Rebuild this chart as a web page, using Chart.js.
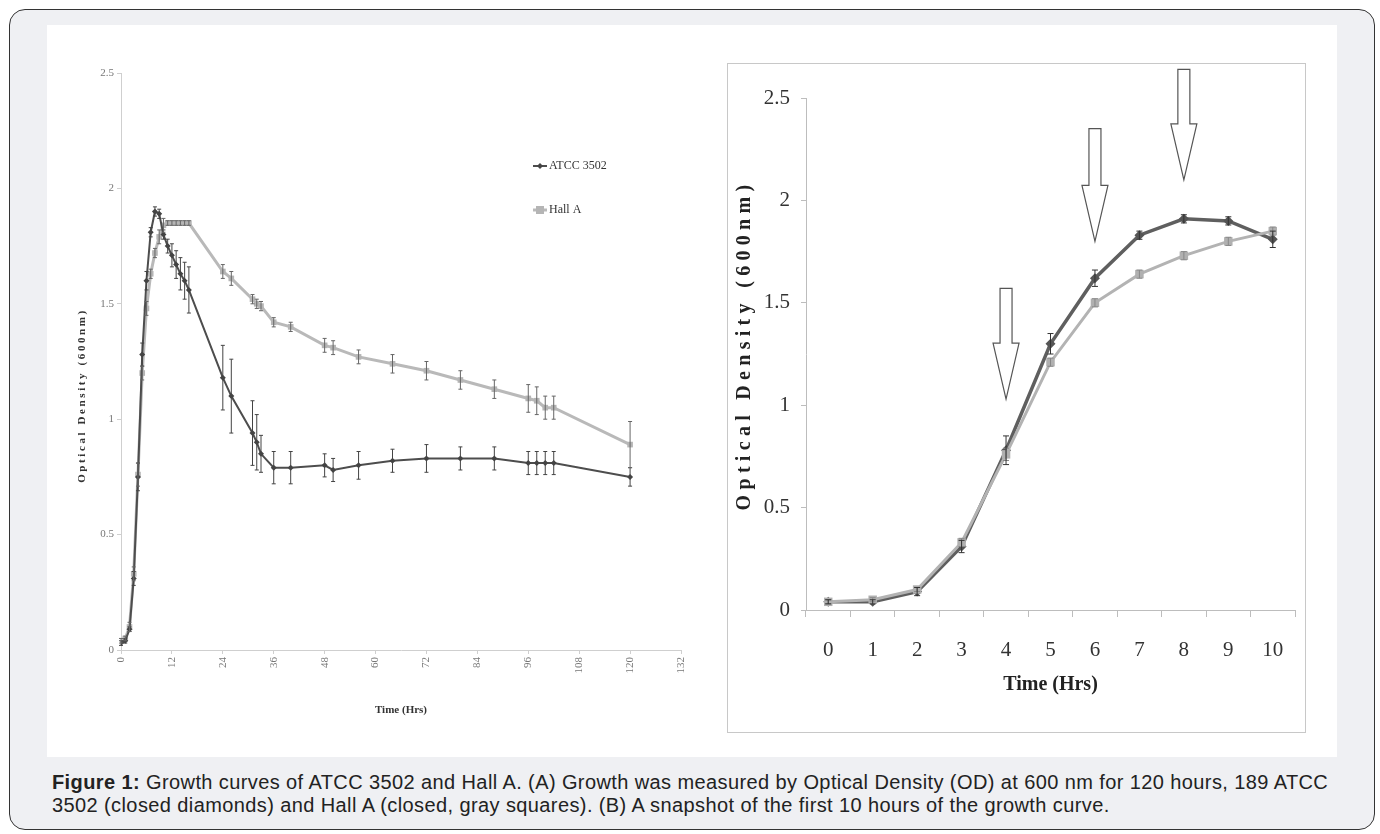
<!DOCTYPE html>
<html>
<head>
<meta charset="utf-8">
<script src="https://cdn.jsdelivr.net/npm/chart.js@4.4.1/dist/chart.umd.min.js"></script>
<style>
    body { margin:0; background:#ffffff; width:1380px; height:834px; position:relative; overflow:hidden; }
    #frame { position:absolute; left:9px; top:9px; width:1366px; height:821px; box-sizing:border-box;
             border:1.5px solid #333; border-radius:16px; background:#eff0f3; }
    #panel { position:absolute; left:47px; top:25px; width:1290px; height:732px; background:#fff; }
    #box_b { position:absolute; left:727px; top:63px; width:579px; height:670px; box-sizing:border-box;
             border:1px solid #c8c8c8; background:#fff; }
    #chart_a { position:absolute; left:47px; top:25px; }
    #chart_b { position:absolute; left:728px; top:64px; }
    #caption { position:absolute; left:52px; top:771px; font-family:"Liberation Sans", Arial, sans-serif;
               font-size:20px; letter-spacing:0.4px; line-height:23px; color:#222; white-space:nowrap; }
</style>
</head>
<body>
<div id="frame"></div>
<div id="panel"></div>
<div id="box_b"></div>
<canvas id="chart_a" width="660" height="720"></canvas>
<canvas id="chart_b" width="577" height="668"></canvas>
<div id="caption"><b>Figure 1:</b> Growth curves of ATCC 3502 and Hall A. (A) Growth was measured by Optical Density (OD) at 600 nm for 120 hours, 189 ATCC<br>3502 (closed diamonds) and Hall A (closed, gray squares). (B) A snapshot of the first 10 hours of the growth curve.</div>

<script>
// ---- (A) 0-120 hrs
var hoursA = [0,1,2,3,4,5,6,7,8,9,10,11,12,13,14,15,16,24,26,31,32,33,36,40,48,50,56,64,72,80,88,96,98,100,102,120];
var atccA  = [0.03,0.04,0.09,0.31,0.75,1.28,1.60,1.81,1.90,1.89,1.80,1.75,1.71,1.67,1.63,1.60,1.56,1.18,1.10,0.94,0.90,0.85,0.79,0.79,0.80,0.78,0.80,0.82,0.83,0.83,0.83,0.81,0.81,0.81,0.81,0.75];
var atccErrA = [0.01,0.01,0.01,0.03,0.06,0.05,0.04,0.02,0.02,0.02,0.02,0.03,0.05,0.06,0.07,0.08,0.10,0.14,0.16,0.14,0.12,0.08,0.07,0.07,0.05,0.05,0.06,0.05,0.06,0.05,0.05,0.05,0.05,0.05,0.05,0.04];
var hallA  = [0.04,0.05,0.10,0.33,0.76,1.20,1.48,1.63,1.72,1.79,1.84,1.85,1.85,1.85,1.85,1.85,1.85,1.64,1.61,1.52,1.50,1.49,1.42,1.40,1.32,1.31,1.27,1.24,1.21,1.17,1.13,1.09,1.08,1.05,1.05,0.89];
var hallErrA = [0.01,0.01,0.02,0.03,0.05,0.03,0.03,0.02,0.02,0.03,0.03,0.01,0.01,0.01,0.01,0.01,0.01,0.03,0.03,0.02,0.02,0.02,0.02,0.02,0.03,0.03,0.03,0.04,0.04,0.04,0.04,0.06,0.06,0.05,0.05,0.10];

// ---- (B) first 10 hrs
var hoursB = ["0","1","2","3","4","5","6","7","8","9","10"];
var atccB  = [0.04,0.04,0.09,0.31,0.78,1.30,1.62,1.83,1.91,1.90,1.81];
var atccErrB = [0.01,0.01,0.02,0.03,0.07,0.05,0.04,0.02,0.02,0.02,0.04];
var hallB  = [0.04,0.05,0.10,0.33,0.76,1.21,1.50,1.64,1.73,1.80,1.85];
var hallErrB = [0.01,0.01,0.01,0.02,0.03,0.02,0.02,0.02,0.02,0.02,0.02];

// arrows in (B): hour, top value, tip value
var arrowHour = [4, 6, 8];
var arrowTop  = [1.57, 2.35, 2.64];
var arrowTip  = [1.03, 1.80, 2.10];

var SERIF = "'Liberation Serif', 'Times New Roman', serif";
var Y_TITLE = 'Optical Density (600nm)';

var _toXY = function( xs, ys ){
    var out = [], n = xs.length, i;
    for( i=0; i<n; i++ ){
        out.push({ x : xs[i], y : ys[i] });
    }
    return out;
};
var _fmt = function( v ){
    return String( Math.round( v * 10 ) / 10 );
};

var errorBarPlugin = {
    id : 'errorBars',
    afterDatasetsDraw : function( chart, args, opts ){
        var ctx = chart.ctx;
        var yScale = chart.scales.y;
        var cap = opts.cap || 2;
        chart.data.datasets.forEach(function( ds, i ){
            if( !ds.errors ) return;
            var meta = chart.getDatasetMeta(i);
            ctx.save();
            ctx.strokeStyle = ds.errorColor || '#444';
            ctx.lineWidth = 1;
            meta.data.forEach(function( pt, j ){
                var v = ds.data[j];
                var val = (typeof v === 'object') ? v.y : v;
                var e = ds.errors[j];
                if( !e ) return;
                var x = pt.x;
                var t = yScale.getPixelForValue( val + e );
                var b = yScale.getPixelForValue( val - e );
                ctx.beginPath();
                ctx.moveTo( x, t ); ctx.lineTo( x, b );
                ctx.moveTo( x - cap, t ); ctx.lineTo( x + cap, t );
                ctx.moveTo( x - cap, b ); ctx.lineTo( x + cap, b );
                ctx.stroke();
            });
            ctx.restore();
        });
    }
};

// y title drawn by hand: the original is widely letter-spaced
var yTitlePlugin = {
    id : 'spacedTitle',
    afterDraw : function( chart, args, opts ){
        if( !opts.text ) return;
        var ctx = chart.ctx, area = chart.chartArea;
        ctx.save();
        ctx.font = 'bold ' + opts.size + 'px ' + SERIF;
        ctx.letterSpacing = opts.spacing + 'px';
        ctx.fillStyle = opts.color || '#222';
        ctx.textAlign = 'center';
        ctx.textBaseline = 'middle';
        ctx.translate( opts.x, (area.top + area.bottom) / 2 + (opts.shift || 0) );
        ctx.rotate( -Math.PI / 2 );
        ctx.fillText( opts.text, 0, 0 );
        ctx.restore();
    }
};

var legendPlugin = {
    id : 'sideLegend',
    afterDraw : function( chart, args, opts ){
        if( !opts.items ) return;
        var ctx = chart.ctx;
        ctx.save();
        opts.items.forEach(function( item ){
            var ds = chart.data.datasets[ item.index ];
            ctx.strokeStyle = ds.borderColor;
            ctx.lineWidth = ds.borderWidth;
            ctx.beginPath();
            ctx.moveTo( item.x, item.y ); ctx.lineTo( item.x + 14, item.y );
            ctx.stroke();
            ctx.fillStyle = ds.pointBackgroundColor;
            var r = ds.pointRadius;
            if( ds.pointStyle === 'rectRot' ){
                ctx.beginPath();
                ctx.moveTo( item.x + 7, item.y - r ); ctx.lineTo( item.x + 7 + r, item.y );
                ctx.lineTo( item.x + 7, item.y + r ); ctx.lineTo( item.x + 7 - r, item.y );
                ctx.closePath(); ctx.fill();
            }else{
                ctx.fillRect( item.x + 7 - r, item.y - r, 2*r, 2*r );
            }
            ctx.fillStyle = '#333';
            ctx.font = '12px ' + SERIF;
            ctx.textBaseline = 'middle';
            ctx.fillText( ds.label, item.x + 16, item.y );
        });
        ctx.restore();
    }
};

var arrowPlugin = {
    id : 'arrows',
    afterDatasetsDraw : function( chart, args, opts ){
        if( !opts.hours ) return;
        var ctx = chart.ctx;
        var xs = chart.scales.x, ys = chart.scales.y;
        ctx.save();
        ctx.strokeStyle = '#555';
        ctx.fillStyle = '#fff';
        ctx.lineWidth = 1.2;
        opts.hours.forEach(function( h, i ){
            var cx = xs.getPixelForValue( h );
            var top = ys.getPixelForValue( opts.tops[i] );
            var tip = ys.getPixelForValue( opts.tips[i] );
            var hw = 6, headW = 13, headL = 56;
            var neck = tip - headL;
            ctx.beginPath();
            ctx.moveTo( cx - hw, top );
            ctx.lineTo( cx + hw, top );
            ctx.lineTo( cx + hw, neck );
            ctx.lineTo( cx + headW, neck );
            ctx.lineTo( cx, tip );
            ctx.lineTo( cx - headW, neck );
            ctx.lineTo( cx - hw, neck );
            ctx.closePath();
            ctx.fill();
            ctx.stroke();
        });
        ctx.restore();
    }
};

var _chartA = function(){
    var ctx = document.getElementById('chart_a').getContext('2d');
    return new Chart( ctx, {
        type : 'line',
        data : {
            datasets : [{
                label : 'ATCC 3502',
                data : _toXY( hoursA, atccA ),
                errors : atccErrA,
                errorColor : '#444',
                borderColor : '#4d4d4d',
                borderWidth : 2,
                pointStyle : 'rectRot',
                pointRadius : 3,
                pointBackgroundColor : '#444',
                pointBorderWidth : 0
            },{
                label : 'Hall A',
                data : _toXY( hoursA, hallA ),
                errors : hallErrA,
                errorColor : '#666',
                borderColor : '#b9b9b9',
                borderWidth : 3,
                pointStyle : 'rect',
                pointRadius : 4,
                pointBackgroundColor : '#b5b5b5',
                pointBorderWidth : 0
            }]
        },
        options : {
            responsive : false,
            animation : false,
            layout : { padding : { left : 25, top : 48, right : 26, bottom : 24 } },
            plugins : {
                legend : { display : false },
                tooltip : { enabled : false },
                errorBars : { cap : 2 },
                sideLegend : { items : [ { index : 0, x : 486, y : 141 }, { index : 1, x : 486, y : 185 } ] },
                spacedTitle : { text : Y_TITLE, size : 11, spacing : 2.6, x : 35, shift : 34, color : '#333' }
            },
            scales : {
                x : {
                    type : 'linear', min : 0, max : 132,
                    afterFit : function( s ){ s.height = 71; },
                    border : { color : '#cfcfcf' },
                    grid : { drawOnChartArea : false, color : '#cfcfcf', tickLength : 4 },
                    ticks : { stepSize : 12, autoSkip : false, maxRotation : 90, minRotation : 90,
                              padding : 3, color : '#777', font : { family : SERIF, size : 11 } },
                    title : { display : true, text : 'Time (Hrs)', color : '#333',
                              font : { family : SERIF, size : 11, weight : 'bold' } }
                },
                y : {
                    min : 0, max : 2.5,
                    afterFit : function( s ){ s.width = 49; },
                    border : { color : '#cfcfcf' },
                    grid : { drawOnChartArea : false, color : '#cfcfcf', tickLength : 4 },
                    ticks : { stepSize : 0.5, padding : 3, color : '#777', callback : _fmt,
                              font : { family : SERIF, size : 11 } }
                }
            }
        },
        plugins : [ errorBarPlugin, legendPlugin, yTitlePlugin ]
    });
};

var _chartB = function(){
    var ctx = document.getElementById('chart_b').getContext('2d');
    return new Chart( ctx, {
        type : 'line',
        data : {
            labels : hoursB,
            datasets : [{
                label : 'Hall A',
                data : hallB,
                errors : hallErrB,
                errorColor : '#888',
                borderColor : '#b3b3b3',
                borderWidth : 3,
                pointStyle : 'rect',
                pointRadius : 6,
                pointBackgroundColor : '#b0b0b0',
                pointBorderWidth : 0
            },{
                label : 'ATCC 3502',
                data : atccB,
                errors : atccErrB,
                errorColor : '#333',
                borderColor : '#5f5f5f',
                borderWidth : 3.5,
                pointStyle : 'rectRot',
                pointRadius : 5,
                pointBackgroundColor : '#555',
                pointBorderWidth : 0
            }]
        },
        options : {
            responsive : false,
            animation : false,
            layout : { padding : { left : 2, top : 34, right : 10, bottom : 31 } },
            plugins : {
                legend : { display : false },
                tooltip : { enabled : false },
                errorBars : { cap : 3 },
                arrows : { hours : arrowHour, tops : arrowTop, tips : arrowTip },
                spacedTitle : { text : Y_TITLE, size : 20, spacing : 5.3, x : 17, shift : -9, color : '#222' }
            },
            scales : {
                x : {
                    type : 'category', offset : true,
                    afterFit : function( s ){ s.height = 91; },
                    border : { color : '#bdbdbd' },
                    grid : { offset : true, drawOnChartArea : false, color : '#bdbdbd', tickLength : 7 },
                    ticks : { padding : 21, color : '#333', font : { family : SERIF, size : 21 } },
                    title : { display : true, text : 'Time (Hrs)', color : '#222',
                              font : { family : SERIF, size : 20, weight : 'bold' } }
                },
                y : {
                    min : 0, max : 2.5,
                    afterFit : function( s ){ s.width = 76; },
                    border : { color : '#bdbdbd' },
                    grid : { drawOnChartArea : false, color : '#bdbdbd', tickLength : 5 },
                    ticks : { stepSize : 0.5, padding : 11, color : '#333', callback : _fmt,
                              font : { family : SERIF, size : 21 } }
                }
            }
        },
        plugins : [ errorBarPlugin, arrowPlugin, yTitlePlugin ]
    });
};

window.onload = function(){
    _chartA();
    _chartB();
};
</script>
</body>
</html>
